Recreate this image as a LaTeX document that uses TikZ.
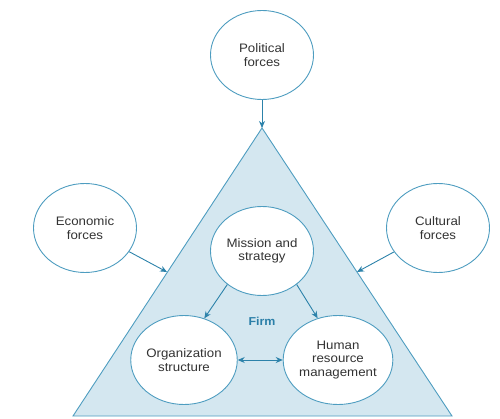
\documentclass[tikz,border=0pt]{standalone}
\usepackage{fontspec}
\setmainfont{Liberation Sans}
\newfontfamily\lab[FakeStretch=1.08]{Liberation Sans}
\usetikzlibrary{shapes.geometric,arrows.meta}
\definecolor{edgeblue}{HTML}{4E9DC0}
\definecolor{arrblue}{HTML}{2C82AA}
\definecolor{trifill}{HTML}{D4E7F0}
\definecolor{txt}{HTML}{333333}
\definecolor{firmblue}{HTML}{2A7FA8}
\tikzset{
  force/.style={ellipse, draw=edgeblue, line width=0.9pt, fill=white,
    minimum width=103pt, minimum height=89pt, inner sep=0pt, align=center,
    text=txt, font=\lab\fontsize{12.3}{13.6}\selectfont},
  conn/.style={draw=arrblue, line width=0.9pt, -{Stealth[length=7pt,width=6pt]}},
  bconn/.style={draw=arrblue, line width=0.9pt, {Stealth[length=7pt,width=6pt]}-{Stealth[length=7pt,width=6pt]}}
}
\begin{document}
\begin{tikzpicture}[x=1pt,y=-1pt]
\useasboundingbox (0,0) rectangle (500,419);
% triangle
\coordinate (apex) at (262,128);
\coordinate (bl) at (73,416);
\coordinate (br) at (452,416);
\draw[draw=edgeblue, line width=0.9pt, fill=trifill, line join=miter] (apex) -- (br) -- (bl) -- cycle;
\coordinate (ecoend) at (167,272);
\coordinate (culend) at (357,272);
% outer forces
\node[force] (pol) at (262,55) {Political\\forces};
\node[force] (eco) at (85,228) {Economic\\forces};
\node[force] (cul) at (438,228) {Cultural\\forces};
% inner
\node[force] (mis) at (262,251) {Mission and\\strategy};
\node[force] (org) at (184,360) {Organization\\structure};
\node[force] (hrm) at (338,360) {Human\\resource\\management};
\node[text=firmblue, font=\lab\bfseries\fontsize{11.5}{13}\selectfont] (firm) at (262,321) {Firm};
% connectors
\draw[conn] (pol) -- (apex);
\draw[conn] (eco) -- (ecoend);
\draw[conn] (cul) -- (culend);
\draw[conn] (mis.224) -- (org.64);
\draw[conn] (mis.316) -- (hrm.116);
\draw[bconn] (org.east) -- (hrm.west);
\end{tikzpicture}
\end{document}
